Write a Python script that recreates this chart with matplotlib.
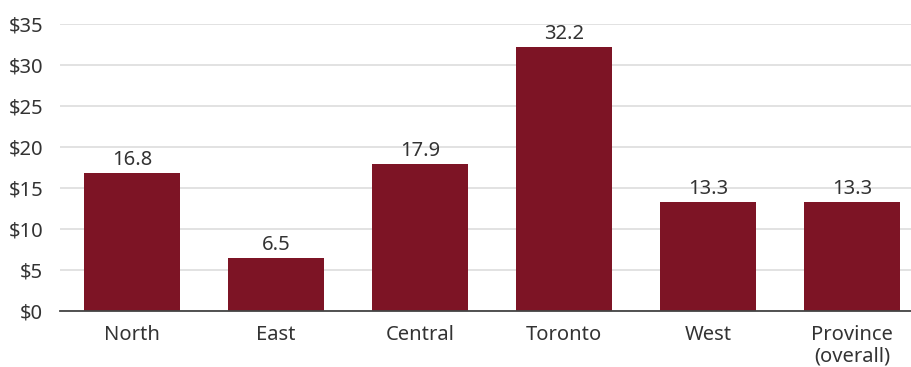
import matplotlib
matplotlib.use("Agg")
import matplotlib.pyplot as plt

categories = ["North", "East", "Central", "Toronto", "West", "Province\n(overall)"]
values = [16.8, 6.5, 17.9, 32.2, 13.3, 13.3]
yticks = [0, 5, 10, 15, 20, 25, 30, 35]
ytick_labels = ["$0", "$5", "$10", "$15", "$20", "$25", "$30", "$35"]

plt.rcParams['font.family'] = ['Noto Sans', 'DejaVu Sans']

fig = plt.figure(figsize=(9.12, 3.67), dpi=100)
ax = fig.add_axes([60/912, 1-311/367, 1-60/912, (311-24)/367])

bar_color = "#7D1425"
text_color = "#333333"
x = list(range(len(categories)))
bars = ax.bar(x, values, width=0.667, color=bar_color, zorder=3)
for xi, v in zip(x, values):
    ax.text(xi, v + 0.35, f"{v:.1f}", ha="center", va="bottom", fontsize=14.5, color=text_color)

ax.set_xlim(-0.5, 5.417)
ax.set_ylim(0, 35)
ax.set_yticks(yticks)
ax.set_yticklabels(ytick_labels)
ax.set_xticks(x)
ax.set_xticklabels(categories, linespacing=1.1)
ax.tick_params(axis="both", length=0, labelsize=14.5, colors=text_color)
ax.tick_params(axis="y", pad=12)
ax.tick_params(axis="x", pad=10)
ax.yaxis.grid(True, color="#dddddd", linewidth=1.2, zorder=0)
ax.set_axisbelow(True)
for s in ["top", "right", "left"]:
    ax.spines[s].set_visible(False)
ax.spines["bottom"].set_color("#444444")
ax.spines["bottom"].set_linewidth(1.3)
ax.spines["bottom"].set_zorder(4)

fig.savefig("out.png", dpi=100)
